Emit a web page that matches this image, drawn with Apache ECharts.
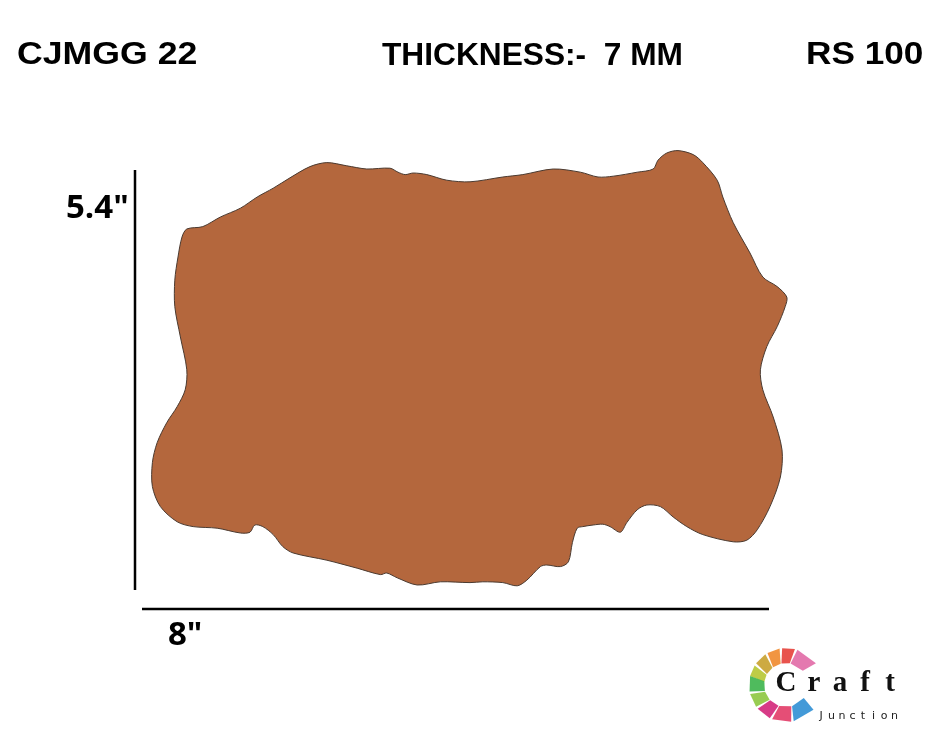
<!DOCTYPE html>
<html>
<head>
<meta charset="utf-8">
<script src="https://cdn.jsdelivr.net/npm/echarts@6/dist/echarts.min.js"></script>
<style>
html,body{margin:0;padding:0;background:#fff;}
#c{width:940px;height:737px;}
</style>
</head>
<body>
<div id="c"></div>
<script>
// Outline of the piece, in inches (x across 0..8, y up 0..5.4)
const outlineX = [0.46,0.66,0.88,1.13,1.34,1.54,1.75,2.00,2.21,2.46,2.71,3.00,3.10,3.19,3.29,3.46,3.71,4.00,4.41,4.66,5.04,5.38,5.60,5.79,6.09,6.29,6.35,6.46,6.60,6.79,6.91,7.09,7.16,7.29,7.50,7.66,7.84,7.96,7.94,7.84,7.71,7.63,7.66,7.79,7.90,7.88,7.75,7.59,7.46,7.29,6.91,6.71,6.54,6.38,6.21,6.09,5.96,5.88,5.75,5.66,5.54,5.41,5.34,5.28,5.23,5.13,4.96,4.88,4.71,4.59,4.41,4.16,4.00,3.63,3.34,3.09,2.96,2.88,2.59,2.21,1.79,1.66,1.54,1.41,1.31,1.25,1.13,0.84,0.54,0.34,0.13,0.03,0.03,0.09,0.21,0.34,0.44,0.46,0.38,0.31,0.31,0.35,0.40];
const outlineY = [4.45,4.48,4.60,4.71,4.85,4.96,5.09,5.23,5.28,5.24,5.20,5.21,5.16,5.13,5.15,5.13,5.06,5.04,5.10,5.13,5.20,5.16,5.10,5.11,5.16,5.20,5.31,5.40,5.43,5.38,5.28,5.06,4.85,4.53,4.15,3.85,3.73,3.60,3.48,3.23,2.98,2.69,2.44,2.10,1.69,1.35,0.98,0.69,0.56,0.54,0.63,0.73,0.85,0.98,1.00,0.94,0.78,0.66,0.73,0.76,0.75,0.73,0.71,0.53,0.29,0.23,0.25,0.23,0.06,-0.01,0.03,0.04,0.03,0.04,0.00,0.09,0.15,0.13,0.21,0.31,0.40,0.48,0.63,0.73,0.75,0.66,0.65,0.71,0.73,0.79,0.98,1.23,1.53,1.78,2.03,2.23,2.44,2.69,3.10,3.48,3.81,4.10,4.35];

// Texts
const codeLabel = 'CJMGG 22';
const thicknessLabel = 'THICKNESS:-  7 MM';
const priceLabel = 'RS 100';
const heightLabel = '5.4"';
const widthLabel = '8"';
const brandWord = 'Craft';
const brandSub = 'Junction';

// Logo ribbon pieces: [startAngle, endAngle]
const ribbonAngles = [[-78,-36],[-102,-76],[-126,-100],[-150,-124],[-172,-148],[164,194],[138,166],[110,140],[76,112],[36,78]];
const ribbonColors = ['#e16aa6','#e5403a','#ef8a2c','#c8a12e','#b7c732','#3cb44b','#8dc63f','#d3267a','#e23b67','#2f8fd4'];

const chart = echarts.init(document.getElementById('c'), null, {renderer:'canvas'});

const graphics = [];
const bold = (s, f) => 'bold ' + s + 'px ' + f;
graphics.push({type:'text', x:17, y:55, scaleX:1.15, style:{text:codeLabel, font:bold(31,'Liberation Sans, Arial'), fill:'#000', textAlign:'left', textVerticalAlign:'middle'}});
graphics.push({type:'text', x:382, y:56, scaleX:0.99, style:{text:thicknessLabel, font:bold(32,'Liberation Sans, Arial'), fill:'#000', textAlign:'left', textVerticalAlign:'middle'}});
graphics.push({type:'text', x:806, y:55, scaleX:1.1, style:{text:priceLabel, font:bold(32,'Liberation Sans, Arial'), fill:'#000', textAlign:'left', textVerticalAlign:'middle'}});
graphics.push({type:'text', x:66, y:209, style:{text:heightLabel, font:bold(33,'Open Sans'), fill:'#000', textAlign:'left', textVerticalAlign:'middle'}});
graphics.push({type:'text', x:168, y:636, style:{text:widthLabel, font:bold(33,'Open Sans'), fill:'#000', textAlign:'left', textVerticalAlign:'middle'}});
// dimension lines
graphics.push({type:'line', shape:{x1:135,y1:170,x2:135,y2:590}, style:{stroke:'#000', lineWidth:2.5}});
graphics.push({type:'line', shape:{x1:142,y1:609,x2:769,y2:609}, style:{stroke:'#000', lineWidth:2.5}});
// logo ribbons
const cx = 786, cy = 685, r1 = 22, r2 = 37;
ribbonAngles.forEach((a, i) => {
  const d = Math.PI/180;
  const t0 = a[0]*d, t1 = a[1]*d;
  const p = [
    [cx + r1*Math.cos(t0), cy + r1*Math.sin(t0)],
    [cx + r2*Math.cos(t0 + 6*d), cy + r2*Math.sin(t0 + 6*d)],
    [cx + r2*Math.cos(t1), cy + r2*Math.sin(t1)],
    [cx + r1*Math.cos(t1 - 4*d), cy + r1*Math.sin(t1 - 4*d)]
  ];
  graphics.push({type:'polygon', shape:{points:p}, style:{fill:ribbonColors[i], opacity:0.9}});
});
// brand word
const letterX = [786, 814, 840, 865, 890];
brandWord.split('').forEach((ch, i) => {
  graphics.push({type:'text', x:letterX[i], y:698, style:{text:ch, font:'bold 29px Liberation Serif, serif', fill:'#111', textAlign:'center', textVerticalAlign:'bottom'}});
});
brandSub.split('').forEach((ch, i) => {
  graphics.push({type:'text', x:821 + i*10.5, y:716, style:{text:ch, font:'11px DejaVu Sans, sans-serif', fill:'#222', textAlign:'center', textVerticalAlign:'middle'}});
});

const option = {
  backgroundColor:'#ffffff',
  animation:false,
  grid:{left:150, top:153, width:640, height:432},
  xAxis:{type:'value', min:0, max:8, show:false},
  yAxis:{type:'value', min:0, max:5.4, show:false},
  series:[{
    type:'custom',
    silent:true,
    clip:false,
    data: outlineX.map((x, i) => [x, outlineY[i]]),
    renderItem: function(params, api){
      if (params.dataIndex !== 0) return null;
      const pts = outlineX.map((x, i) => api.coord([x, outlineY[i]]));
      return {type:'polygon', shape:{points:pts, smooth:0.3}, style:{fill:'#b4673d', stroke:'#4a3a30', lineWidth:1}};
    }
  }],
  graphic: graphics
};
chart.setOption(option);
</script>
</body>
</html>
